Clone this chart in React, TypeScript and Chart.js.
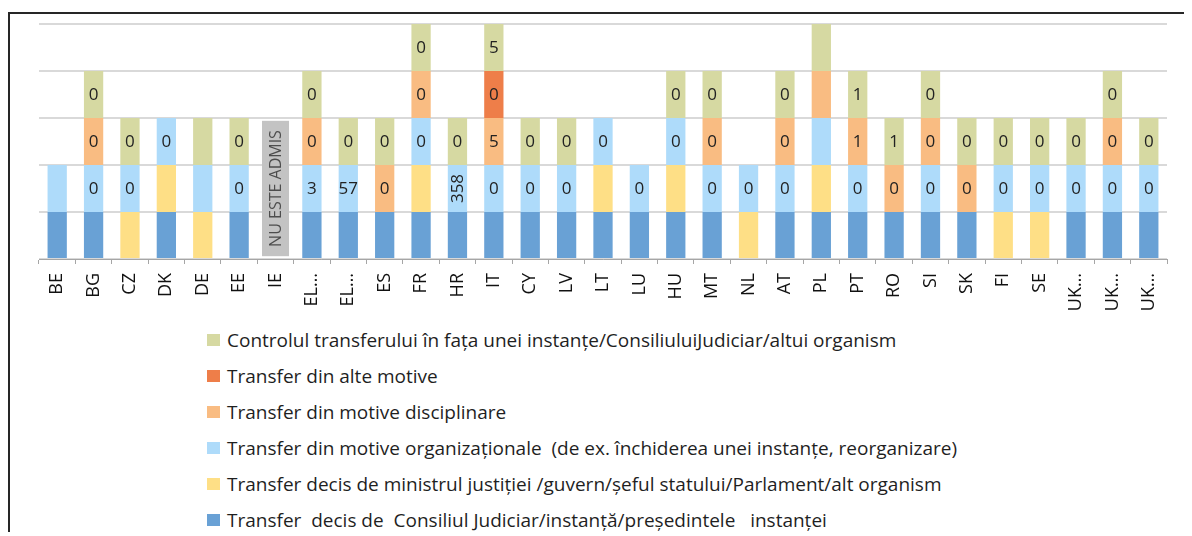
import React, { useEffect, useRef } from "react";
import { Chart, registerables } from "chart.js";

Chart.register(...registerables);

// Categories (countries)
const categories = [
  "BE", "BG", "CZ", "DK", "DE", "EE", "IE", "EL…", "EL…", "ES", "FR", "HR", "IT", "CY", "LV", "LT",
  "LU", "HU", "MT", "NL", "AT", "PL", "PT", "RO", "SI", "SK", "FI", "SE", "UK…", "UK…", "UK…",
];

// Series names, bottom of the stack first
const seriesNames = [
  "Transfer  decis de  Consiliul Judiciar/instanță/președintele   instanței",
  "Transfer decis de ministrul justiției /guvern/șeful statului/Parlament/alt organism",
  "Transfer din motive organizaționale  (de ex. închiderea unei instanțe, reorganizare)",
  "Transfer din motive disciplinare",
  "Transfer din alte motive",
  "Controlul transferului în fața unei instanțe/ConsiliuluiJudiciar/altui organism",
];

const seriesColors = ["#69a1d5", "#fedf86", "#aedbfa", "#f9bc82", "#ee7e49", "#d6d9a2"];

// 1 = yes (block shown), 0 = no
const consiliu =      [1,1,0,1,0,1,0,1,1,1,1,1,1,1,1,1,1,1,1,0,1,1,1,1,1,1,0,0,1,1,1];
const ministru =      [0,0,1,1,1,0,0,0,0,0,1,0,0,0,0,1,0,1,0,1,0,1,0,0,0,0,1,1,0,0,0];
const organizational =[1,1,1,1,1,1,0,1,1,0,1,1,1,1,1,1,1,1,1,1,1,1,1,0,1,0,1,1,1,1,1];
const disciplinar =   [0,1,0,0,0,0,0,1,0,1,1,0,1,0,0,0,0,0,1,0,1,1,1,1,1,1,0,0,0,1,0];
const alteMotive =    [0,0,0,0,0,0,0,0,0,0,0,0,1,0,0,0,0,0,0,0,0,0,0,0,0,0,0,0,0,0,0];
const control =       [0,1,1,0,1,1,0,1,1,1,1,1,1,1,1,0,0,1,1,0,1,1,1,1,1,1,1,1,1,1,1];

// Numbers written inside the blocks
const consiliuText =      ["","","","","","","","","","","","","","","","","","","","","","","","","","","","","","",""];
const ministruText =      ["","","","","","","","","","","","","","","","","","","","","","","","","","","","","","",""];
const organizationalText =["","0","0","0","","0","","3","57","","0","358","0","0","0","0","0","0","0","0","0","","0","","0","","0","0","0","0","0"];
const disciplinarText =   ["","0","","","","","","0","","0","0","","5","","","","","","0","","0","","1","0","0","0","","","","0",""];
const alteMotiveText =    ["","","","","","","","","","","","","0","","","","","","","","","","","","","","","","","",""];
const controlText =       ["","0","0","","","0","","0","0","0","0","0","5","0","0","","","0","0","","0","","1","1","0","0","0","0","0","0","0"];

const notAllowedLabel = "NU ESTE ADMIS";
const notAllowedCategory = 6;
const notAllowedRange = [0.06, 2.94];

const seriesValues = [consiliu, ministru, organizational, disciplinar, alteMotive, control];
const seriesTexts = [consiliuText, ministruText, organizationalText, disciplinarText, alteMotiveText, controlText];

const FONT = '"Open Sans", "Noto Sans", sans-serif';

const labelPlugin = {
  id: "segmentLabels",
  afterDatasetsDraw(chart: any) {
    const ctx = chart.ctx;
    const xs = chart.scales.x;
    const ys = chart.scales.y;
    // "NU ESTE ADMIS" marker
    const cx = xs.getPixelForValue(notAllowedCategory);
    const yTop = ys.getPixelForValue(notAllowedRange[1]);
    const yBot = ys.getPixelForValue(notAllowedRange[0]);
    ctx.save();
    ctx.fillStyle = "#c3c3c3";
    ctx.fillRect(cx - 13.5, yTop, 27, yBot - yTop);
    ctx.translate(cx, (yTop + yBot) / 2);
    ctx.rotate(-Math.PI / 2);
    ctx.font = `16px ${FONT}`;
    ctx.fillStyle = "#4d4d4d";
    ctx.textAlign = "center";
    ctx.textBaseline = "middle";
    ctx.fillText(notAllowedLabel, 0, 1);
    ctx.restore();

    chart.data.datasets.forEach((_ds: any, di: number) => {
      const meta = chart.getDatasetMeta(di);
      const texts = seriesTexts[di];
      meta.data.forEach((el: any, i: number) => {
        const t = texts[i];
        if (!t) return;
        const { x, y, base } = el.getProps(["x", "y", "base"], true);
        const cy = (y + base) / 2;
        ctx.save();
        ctx.font = `17px ${FONT}`;
        ctx.fillStyle = "#222222";
        ctx.textAlign = "center";
        ctx.textBaseline = "middle";
        if (t.length > 2) {
          ctx.translate(x, cy);
          ctx.rotate(-Math.PI / 2);
          ctx.fillText(t, 0, 1);
        } else {
          ctx.fillText(t, x, cy + 1);
        }
        ctx.restore();
      });
    });
  },
};

export default function App() {
  const canvasRef = useRef<HTMLCanvasElement | null>(null);

  useEffect(() => {
    if (!canvasRef.current) return;
    const chart = new Chart(canvasRef.current, {
      type: "bar",
      data: {
        labels: categories,
        datasets: seriesNames.map((name, i) => ({
          label: name,
          data: seriesValues[i],
          backgroundColor: seriesColors[i],
          borderWidth: 0,
          barPercentage: 0.53,
          categoryPercentage: 1,
        })),
      },
      options: {
        animation: false,
        responsive: false,
        maintainAspectRatio: false,
        layout: { padding: { left: 29, right: 25, top: 10, bottom: 0 } },
        plugins: {
          legend: { display: false },
          tooltip: { enabled: false },
        },
        scales: {
          x: {
            stacked: true,
            grid: {
              display: true,
              drawOnChartArea: false,
              drawTicks: true,
              tickLength: 5,
              color: "#a6a6a6",
              offset: true,
            },
            border: { display: true, color: "#a6a6a6", width: 1 },
            ticks: {
              autoSkip: false,
              minRotation: 90,
              maxRotation: 90,
              padding: 9,
              color: "#111111",
              font: { family: FONT, size: 18 },
            },
            afterFit: (s: any) => {
              s.height = 65;
            },
          },
          y: {
            stacked: true,
            min: 0,
            max: 5,
            z: 1,
            ticks: { display: false, stepSize: 1 },
            grid: { color: "#d9d9d9", lineWidth: 2, drawTicks: false },
            border: { display: false },
            afterFit: (s: any) => {
              s.width = 0;
            },
          },
        },
      },
      plugins: [labelPlugin],
    } as any);
    return () => chart.destroy();
  }, []);

  const legendOrder = seriesNames.map((n, i) => ({ n, c: seriesColors[i] })).reverse();

  return (
    <div
      style={{
        marginTop: 4,
        marginRight: -8,
        borderTop: "2px solid #262626",
        borderLeft: "2px solid #262626",
        height: 520,
        boxSizing: "border-box",
        background: "#ffffff",
      }}
    >
      <canvas ref={canvasRef} width={1182} height={310} style={{ display: "block" }} />
      <div style={{ paddingLeft: 197, marginTop: -2, fontFamily: FONT, fontSize: 19, color: "#1f1f1f" }}>
        {legendOrder.map((item, i) => (
          <div key={i} style={{ height: 36, display: "flex", alignItems: "center" }}>
            <span
              style={{
                display: "inline-block",
                width: 13,
                height: 12,
                background: item.c,
                marginRight: 7,
              }}
            />
            <span style={{ whiteSpace: "pre" }}>{item.n}</span>
          </div>
        ))}
      </div>
    </div>
  );
}
